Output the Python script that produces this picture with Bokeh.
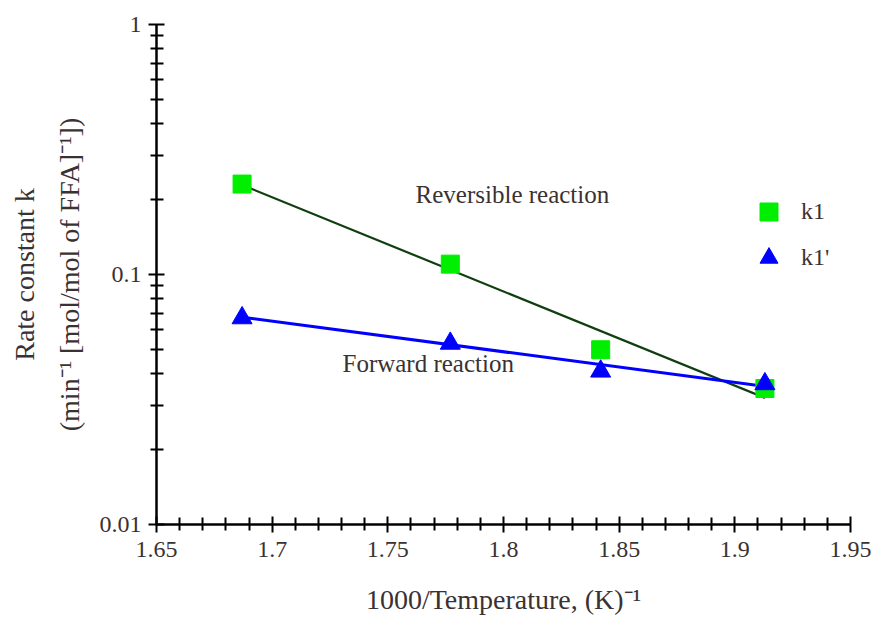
from bokeh.plotting import figure
from bokeh.models import FixedTicker, Legend, LegendItem, Label, Range1d
from bokeh.embed import file_html
from bokeh.resources import INLINE

# ---- data ----
inv_temp = [1.687, 1.777, 1.842, 1.913]          # 1000/T  (1/K)
k1 = [0.230, 0.110, 0.050, 0.035]                # squares
k1_prime = [0.067, 0.053, 0.041, 0.0365]         # triangles

fit_x = [1.687, 1.913]
fit_k1 = [0.228, 0.0321]
fit_k1_prime = [0.0675, 0.0357]

x_major = [1.65, 1.7, 1.75, 1.8, 1.85, 1.9, 1.95]
x_major_labels = ["1.65", "1.7", "1.75", "1.8", "1.85", "1.9", "1.95"]
x_minor = [1.66, 1.67, 1.68, 1.69, 1.71, 1.72, 1.73, 1.74, 1.76, 1.77,
           1.78, 1.79, 1.81, 1.82, 1.83, 1.84, 1.86, 1.87, 1.88, 1.89,
           1.91, 1.92, 1.93, 1.94]
y_major = [0.01, 0.1, 1.0]
y_major_labels = ["0.01", "0.1", "1"]
y_minor = [0.02, 0.03, 0.04, 0.05, 0.06, 0.07, 0.08, 0.09,
           0.2, 0.3, 0.4, 0.5, 0.6, 0.7, 0.8, 0.9]

FONT = "'Liberation Serif', 'Times New Roman', serif"
TXT = "#3a3232"

p = figure(width=871, height=617, y_axis_type="log",
           x_range=Range1d(1.65, 1.95), y_range=Range1d(0.01, 1.0),
           output_backend="svg", toolbar_location=None,
           min_border_left=156, min_border_right=21,
           min_border_top=24, min_border_bottom=92)
p.outline_line_color = None
p.xgrid.visible = False
p.ygrid.visible = False
p.background_fill_color = "white"

# fitted lines
p.line(fit_x, fit_k1, line_color="#0f3f0f", line_width=2.2)
p.line(fit_x, fit_k1_prime, line_color="#0000ff", line_width=3)

r_sq = p.scatter(inv_temp, k1, marker="square", size=18,
                 fill_color="#00ee00", line_color="#00ee00")
r_tri = p.scatter(inv_temp, k1_prime, marker="triangle", size=20,
                  fill_color="#0000ff", line_color="#0000ff")

# axes
for ax in (p.xaxis[0], p.yaxis[0]):
    ax.axis_line_width = 2.5
    ax.axis_line_color = "black"
    ax.major_tick_line_width = 2
    ax.minor_tick_line_width = 2
    ax.major_tick_line_color = "black"
    ax.minor_tick_line_color = "black"
    ax.major_tick_in = 8
    ax.major_tick_out = 8
    ax.minor_tick_in = 7
    ax.minor_tick_out = 6
    ax.major_label_text_font = FONT
    ax.major_label_text_font_size = "24px"
    ax.major_label_text_color = TXT
    ax.axis_label_text_font = FONT
    ax.axis_label_text_font_size = "28px"
    ax.axis_label_text_font_style = "normal"
    ax.axis_label_text_color = TXT

p.xaxis.ticker = FixedTicker(ticks=x_major, minor_ticks=x_minor)
p.xaxis.major_label_overrides = dict(zip(x_major, x_major_labels))
p.xaxis.major_label_standoff = 9
p.xaxis.axis_label = "1000/Temperature, (K)\u207b\u00b9"
p.xaxis.axis_label_standoff = 24

p.yaxis.ticker = FixedTicker(ticks=y_major, minor_ticks=y_minor)
p.yaxis.major_label_overrides = dict(zip(y_major, y_major_labels))
p.yaxis.major_label_standoff = 7
p.yaxis.axis_label = "Rate constant k\n(min\u207b\u00b9 [mol/mol of FFA]\u207b\u00b9])"
p.yaxis.axis_label_standoff = 12
p.yaxis.axis_label_text_line_height = 1.45

# annotations
p.add_layout(Label(x=1.762, y=0.184, text="Reversible reaction",
                   text_font=FONT, text_font_size="25px", text_color=TXT))
p.add_layout(Label(x=1.7304, y=0.0388, text="Forward reaction",
                   text_font=FONT, text_font_size="25px", text_color=TXT))

legend = Legend(items=[LegendItem(label="k1", renderers=[r_sq]),
                       LegendItem(label="k1'", renderers=[r_tri])],
                location=(590, 244), padding=0, margin=0, spacing=1,
                glyph_width=45, glyph_height=45, label_standoff=10,
                label_text_font=FONT, label_text_font_size="24px",
                label_text_color=TXT, border_line_alpha=0,
                background_fill_alpha=0)
p.add_layout(legend)

open("out.html", "w").write(file_html(p, INLINE))
